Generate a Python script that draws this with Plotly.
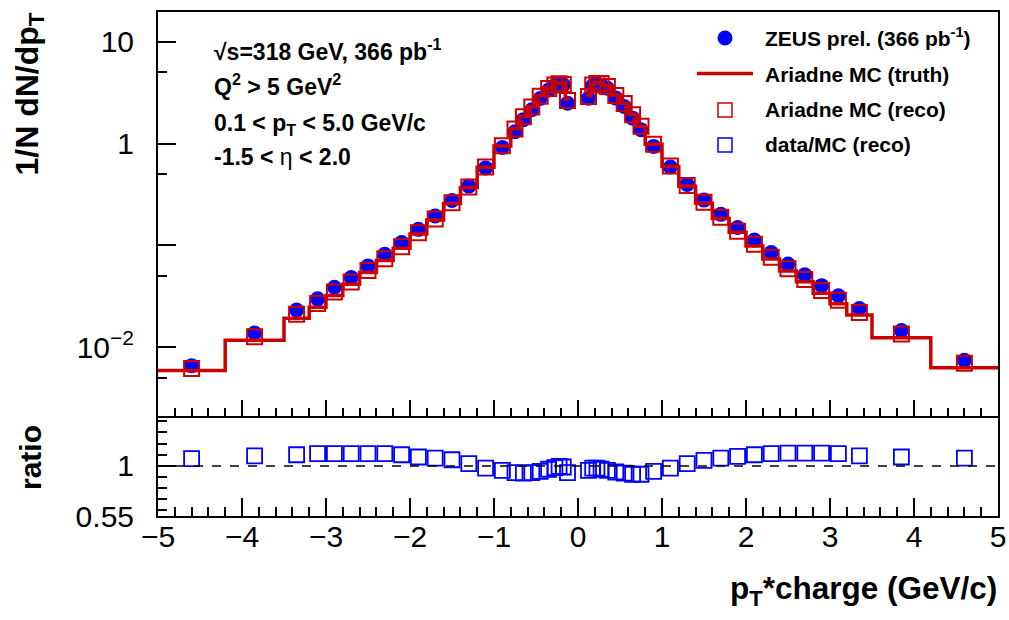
import plotly.graph_objects as go

# ---------------- data ----------------
edges_neg = [-5.0, -4.2, -3.5, -3.2, -3.0, -2.8, -2.6, -2.4, -2.2, -2.0, -1.8, -1.6,
             -1.4, -1.2, -1.0, -0.8, -0.7, -0.6, -0.5, -0.4, -0.3, -0.25, -0.2, -0.15, -0.1]
edges_pos = [0.1, 0.15, 0.2, 0.25, 0.3, 0.4, 0.5, 0.6, 0.7, 0.8, 1.0, 1.2, 1.4, 1.6,
             1.8, 2.0, 2.2, 2.4, 2.6, 2.8, 3.0, 3.2, 3.5, 4.2, 5.0]

data_neg = [0.0066, 0.0138, 0.0232, 0.0299, 0.0388, 0.0485, 0.063, 0.082, 0.107, 0.144,
            0.195, 0.277, 0.383, 0.578, 0.915, 1.31, 1.72, 2.15, 2.78, 3.37, 3.72, 3.85,
            3.78, 2.49]
data_pos = [2.79, 3.70, 3.82, 3.77, 3.50, 2.80, 2.32, 1.78, 1.37, 0.94, 0.59, 0.397,
            0.279, 0.202, 0.150, 0.113, 0.0853, 0.0657, 0.0516, 0.0403, 0.0321, 0.0240,
            0.0146, 0.00745]

reco_neg = [0.00619, 0.01266, 0.0211, 0.0269, 0.0350, 0.0437, 0.0568, 0.0739, 0.0973,
            0.1333, 0.1822, 0.2626, 0.3755, 0.590, 0.953, 1.394, 1.840, 2.287, 2.926,
            3.474, 3.777, 3.869, 3.818, 2.649]
reco_pos = [2.906, 3.776, 3.898, 3.887, 3.646, 2.963, 2.481, 1.924, 1.481, 0.989, 0.602,
            0.389, 0.266, 0.1888, 0.1382, 0.1027, 0.0768, 0.0589, 0.0463, 0.0361, 0.0289,
            0.0220, 0.01352, 0.00696]

truth_neg = [0.0059, 0.0117, 0.0193, 0.0247, 0.0322, 0.0415, 0.0543, 0.0710, 0.0938,
             0.1295, 0.1775, 0.258, 0.370, 0.585, 0.950, 1.40, 1.85, 2.31, 2.96, 3.52,
             3.85, 3.95, 3.92, 2.75]
truth_pos = [2.95, 3.85, 3.98, 3.95, 3.70, 3.00, 2.50, 1.93, 1.48, 0.985, 0.598, 0.382,
             0.260, 0.1845, 0.1345, 0.0990, 0.0737, 0.0562, 0.0440, 0.0339, 0.0267,
             0.0207, 0.0124, 0.0063]

ratio_neg = [1.066, 1.09, 1.10, 1.11, 1.11, 1.11, 1.11, 1.11, 1.10, 1.08, 1.07, 1.055,
             1.02, 0.98, 0.96, 0.94, 0.935, 0.94, 0.95, 0.97, 0.985, 0.995, 0.99, 0.94]
ratio_pos = [0.96, 0.98, 0.98, 0.97, 0.96, 0.945, 0.935, 0.925, 0.925, 0.95, 0.98, 1.02,
             1.05, 1.07, 1.085, 1.10, 1.11, 1.115, 1.115, 1.115, 1.11, 1.09, 1.08, 1.07]

y_major = [0.01, 0.1, 1, 10]
y_major_text = ["10<sup>\u22122</sup>", "", "1", "10"]
y_minor = [0.005, 0.05, 0.5, 5]
r_major = [0.55, 1.0]
r_major_text = ["0.55", "1"]
r_minor = [0.6, 0.7, 0.8, 0.9, 1.1, 1.2, 1.3, 1.4]

# ---------------- derived ----------------
def centers(e):
    return [(a + b) / 2 for a, b in zip(e[:-1], e[1:])]

xc = centers(edges_neg) + centers(edges_pos)
data = data_neg + data_pos
reco = reco_neg + reco_pos
ratio = ratio_neg + ratio_pos
step_x = edges_neg + [None] + edges_pos
step_y = truth_neg + [truth_neg[-1]] + [None] + truth_pos + [truth_pos[-1]]

RED = "#cc0000"
BLUE = "#0000ff"
FONT = "Liberation Sans, Arial, Helvetica, sans-serif"

fig = go.Figure()
fig.add_trace(go.Scatter(x=xc, y=data, mode="markers", xaxis="x", yaxis="y",
                         marker=dict(symbol="circle", size=15, color=BLUE),
                         showlegend=False, hoverinfo="skip"))
fig.add_trace(go.Scatter(x=step_x, y=step_y, mode="lines", line_shape="hv",
                         connectgaps=False, xaxis="x", yaxis="y",
                         line=dict(color=RED, width=3.5), showlegend=False,
                         hoverinfo="skip"))
fig.add_trace(go.Scatter(x=xc, y=reco, mode="markers", xaxis="x", yaxis="y",
                         marker=dict(symbol="square-open", size=15,
                                     line=dict(color=RED, width=2), color=RED),
                         showlegend=False, hoverinfo="skip"))
fig.add_trace(go.Scatter(x=xc, y=ratio, mode="markers", xaxis="x2", yaxis="y2",
                         marker=dict(symbol="square-open", size=15,
                                     line=dict(color=BLUE, width=1.8), color=BLUE),
                         showlegend=False, hoverinfo="skip"))

L, R, T, B = 158, 11, 12, 104
W, H = 1009, 620
PW, PH = W - L - R, H - T - B


def X(px):
    return (px - L) / PW


def Y(py):
    return (H - B - py) / PH


axis_common = dict(showline=True, linecolor="black", linewidth=2, mirror=True,
                   showgrid=False, zeroline=False, ticks="inside", tickcolor="black",
                   tickwidth=1.5, automargin=False)

fig.update_layout(
    width=W, height=H, autosize=False,
    margin=dict(l=L, r=R, t=T, b=B),
    paper_bgcolor="white", plot_bgcolor="white",
    font=dict(family=FONT, color="black"),
    xaxis=dict(domain=[0, 1], anchor="y", range=[-5, 5], showticklabels=False,
               dtick=1, tick0=0, ticklen=16,
               minor=dict(ticks="inside", dtick=0.2, tick0=0, ticklen=8,
                          tickwidth=1.5, tickcolor="black"),
               **axis_common),
    yaxis=dict(domain=[Y(416), 1], anchor="x", type="log", range=[-2.675, 1.293],
               tickmode="array", tickvals=y_major, ticktext=y_major_text, ticklen=18,
               tickfont=dict(size=30, family=FONT), ticklabelstandoff=16,
               minor=dict(ticks="inside", tickvals=y_minor, ticklen=9, tickwidth=1.5,
                          tickcolor="black"),
               **axis_common),
    xaxis2=dict(domain=[0, 1], anchor="y2", range=[-5, 5], matches="x",
                dtick=1, tick0=0, ticklen=18, tickfont=dict(size=30, family=FONT),
                ticklabeloverflow="allow",
                minor=dict(ticks="inside", dtick=0.2, tick0=0, ticklen=9,
                           tickwidth=1.5, tickcolor="black"),
                **axis_common),
    yaxis2=dict(domain=[0, Y(418)], anchor="x2", range=[0.55, 1.43],
                tickmode="array", tickvals=r_major, ticktext=r_major_text, ticklen=18,
                tickfont=dict(size=30, family=FONT), ticklabelstandoff=16,
                ticklabeloverflow="allow",
                minor=dict(ticks="inside", tickvals=r_minor, ticklen=9, tickwidth=1.5,
                           tickcolor="black"),
                **axis_common),
)
try:
    fig.update_layout(xaxis2_ticklabelstandoff=-7)
except ValueError:
    fig.update_layout(xaxis2_ticklabelstandoff=0)

# dashed reference line in ratio panel
fig.add_shape(type="line", xref="x2 domain", yref="y2", x0=0, x1=1, y0=1, y1=1,
              line=dict(color="black", width=1.5, dash="dash"))

# axis titles
fig.add_annotation(text="<b>1/N dN/dp<sub>T</sub></b>", xref="paper", yref="paper",
                   x=X(29), y=Y(11), xanchor="center", yanchor="top", textangle=-90,
                   showarrow=False, font=dict(size=32, family=FONT))
fig.add_annotation(text="<b>ratio</b>", xref="paper", yref="paper",
                   x=X(30), y=Y(458), xanchor="center", yanchor="middle", textangle=-90,
                   showarrow=False, font=dict(size=30, family=FONT))
fig.add_annotation(text="<b>p<sub>T</sub>*charge (GeV/c)</b>", xref="paper", yref="paper",
                   x=X(999), y=Y(590), xanchor="right", yanchor="middle",
                   showarrow=False, font=dict(size=31.5, family=FONT))

# info text
info = [("<b>\u221as=318 GeV, 366 pb<sup>-1</sup></b>", 50),
        ("<b>Q<sup>2</sup> &gt; 5 GeV<sup>2</sup></b>", 85),
        ("<b>0.1 &lt; p<sub>T</sub> &lt; 5.0 GeV/c</b>", 124),
        ("<b>-1.5 &lt;</b> \u03b7 <b>&lt; 2.0</b>", 157)]
for txt, yy in info:
    fig.add_annotation(text=txt, xref="paper", yref="paper", x=X(212), y=Y(yy),
                       xanchor="left", yanchor="middle", showarrow=False,
                       font=dict(size=23, family=FONT))

# legend (manual)
leg = [("<b>ZEUS prel. (366 pb<sup>-1</sup>)</b>", 37),
       ("<b>Ariadne MC (truth)</b>", 74),
       ("<b>Ariadne MC (reco)</b>", 110),
       ("<b>data/MC (reco)</b>", 145)]
for txt, yy in leg:
    fig.add_annotation(text=txt, xref="paper", yref="paper", x=X(763), y=Y(yy),
                       xanchor="left", yanchor="middle", showarrow=False,
                       font=dict(size=21, family=FONT))
fig.add_shape(type="circle", xref="paper", yref="paper", x0=X(717.5), x1=X(732.5),
              y0=Y(45.5), y1=Y(30.5), fillcolor=BLUE, line=dict(color=BLUE, width=0))
fig.add_shape(type="line", xref="paper", yref="paper", x0=X(697), x1=X(753),
              y0=Y(73.5), y1=Y(73.5), line=dict(color=RED, width=3.5))
fig.add_shape(type="rect", xref="paper", yref="paper", x0=X(718), x1=X(732),
              y0=Y(117), y1=Y(103), line=dict(color=RED, width=1.5))
fig.add_shape(type="rect", xref="paper", yref="paper", x0=X(718), x1=X(732),
              y0=Y(152), y1=Y(138), line=dict(color=BLUE, width=1.5))

fig.write_html("out.html",
               config={"displayModeBar": False, "responsive": False},
               post_script="document.body.style.margin='0';"
                           "document.body.style.overflow='hidden';")
